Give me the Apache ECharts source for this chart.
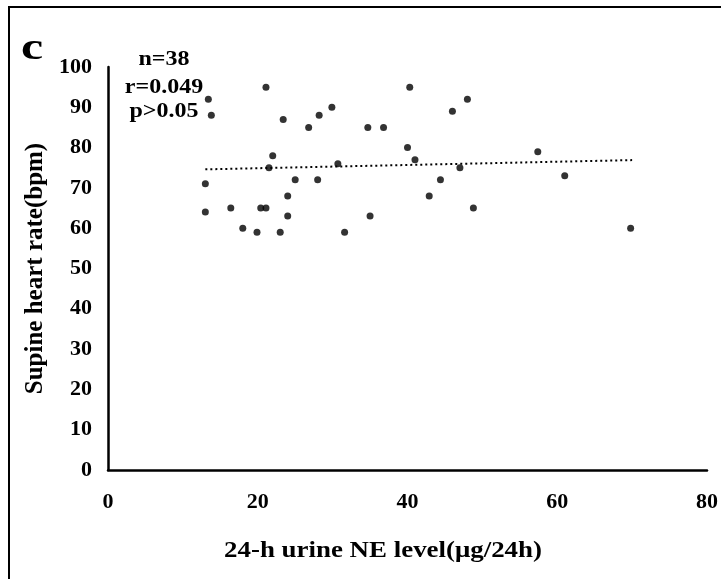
<!DOCTYPE html>
<html>
<head>
<meta charset="utf-8">
<script src="https://cdn.jsdelivr.net/npm/echarts@6/dist/echarts.min.js"></script>
<style>
  html, body { margin: 0; padding: 0; background: #fff; }
  #chart { width: 721px; height: 579px; }
</style>
</head>
<body>
<div id="chart"></div>
<script>
// 24-h urine NE level (x) vs supine heart rate (y), n=38
var neLevel = [13.4, 13.8, 21.1, 23.4, 26.8, 28.2, 29.9, 22.0, 21.5, 30.7,
  13.0, 25.0, 28.0, 24.0, 13.0, 16.4, 20.4, 21.1, 24.0, 18.0,
  19.9, 23.0, 31.6, 40.3, 48.0, 46.0, 34.7, 36.8, 40.0, 41.0,
  47.0, 57.4, 44.4, 61.0, 42.9, 48.8, 35.0, 69.8];
var heartRate = [92, 88, 95, 87, 85, 88, 90, 78, 75, 76,
  71, 72, 72, 68, 64, 65, 65, 65, 63, 60,
  59, 59, 59, 95, 92, 89, 85, 85, 80, 77,
  75, 79, 72, 73, 68, 65, 63, 60];
var trendX = [13, 70];
var trendY = [74.6, 76.9];
var xTicks = [0, 20, 40, 60, 80];
var statLines = ['n=38', 'r=0.049', 'p>0.05'];

var font = '"Liberation Serif", "Times New Roman", serif';
var points = neLevel.map(function (x, i) { return [x, heartRate[i]]; });
var trend = trendX.map(function (x, i) { return [x, trendY[i]]; });

// text in the original looks a bit stretched sideways, so scaleX on graphic texts
function label(text, x, y, size, sx, align) {
  return {
    type: 'text', x: x, y: y, scaleX: sx,
    style: {
      text: text, font: 'bold ' + size + 'px ' + font, fill: '#000',
      align: align || 'center', verticalAlign: 'middle'
    }
  };
}

var myChart = echarts.init(document.getElementById('chart'));
var option = {
  animation: false,
  grid: { left: 108, right: 14, top: 67, bottom: 109 },
  xAxis: {
    type: 'value',
    min: xTicks[0],
    max: xTicks[xTicks.length - 1],
    interval: 20,
    splitLine: { show: false },
    axisTick: { show: false },
    axisLine: { lineStyle: { color: '#000', width: 2.5 } },
    axisLabel: { color: '#000', fontFamily: font, fontWeight: 'bold', fontSize: 22, margin: 21 }
  },
  yAxis: {
    type: 'value',
    min: 0,
    max: 100,
    interval: 10,
    splitLine: { show: false },
    axisTick: { show: false },
    axisLine: { lineStyle: { color: '#000', width: 2.5 } },
    axisLabel: { color: '#000', fontFamily: font, fontWeight: 'bold', fontSize: 22, margin: 16 },
    name: 'Supine heart rate(bpm)',
    nameLocation: 'middle',
    nameGap: 59,
    nameTextStyle: { color: '#000', fontFamily: font, fontWeight: 'bold', fontSize: 25 }
  },
  graphic: [
    {
      type: 'rect',
      shape: { x: 9, y: 7, width: 740, height: 600 },
      style: { fill: 'none', stroke: '#000', lineWidth: 2 }
    },
    label('c', 21, 49, 37, 1.35, 'left'),
    label(statLines[0], 164, 60, 20, 1.2),
    label(statLines[1], 164, 88, 20, 1.2),
    label(statLines[2], 164, 112, 20, 1.2),
    label('24-h urine NE level(μg/24h)', 383, 551, 23, 1.17)
  ],
  series: [
    {
      type: 'line',
      data: trend,
      symbol: 'none',
      lineStyle: { color: '#000', width: 2, type: [2, 3] },
      z: 1
    },
    {
      type: 'scatter',
      data: points,
      symbolSize: 7,
      itemStyle: { color: '#000' },
      z: 2
    }
  ]
};
myChart.setOption(option);
</script>
</body>
</html>
